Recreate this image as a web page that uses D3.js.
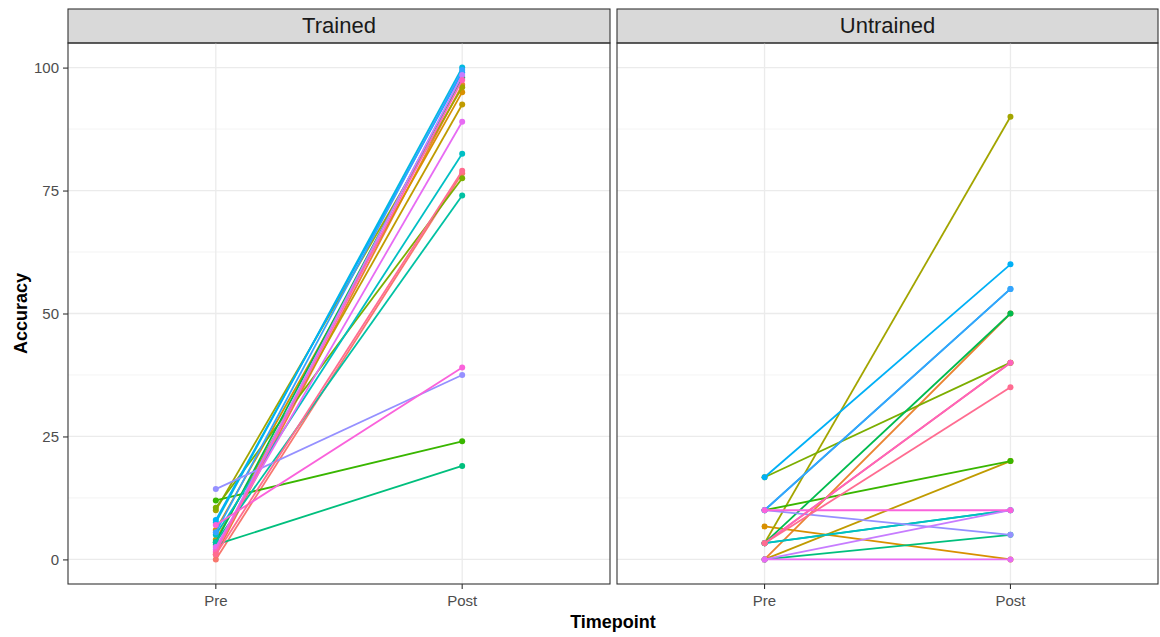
<!DOCTYPE html>
<html>
<head>
<meta charset="utf-8">
<script src="https://cdn.jsdelivr.net/npm/d3@7"></script>
<style>
  body { margin: 0; background: #fff; }
  text { font-family: "Liberation Sans", Arial, sans-serif; }
</style>
</head>
<body>
<div id="chart"></div>
<script>
// data, one entry per participant (order = colour index)
const participants = d3.range(1, 21).map(d => "P" + d);
const timepoints = ["Pre", "Post"];
const panels = ["Trained", "Untrained"];
const yTicks = [0, 25, 50, 75, 100];

const trainedPre  = [0, 1, 6, 4, 10, 10.5, 12, 3.5, 3, 3.5, 5, 7.5, 8, 5.5, 14.3, 2, 2.5, 7, 1.5, 1];
const trainedPost = [78.5, 96.5, 95, 92.5, 96, 77.5, 24, 98, 19, 74, 82.5, 100, 99, 99.5, 37.5, 98.5, 89, 39, 97.5, 79];

const untrainedPre  = [3.3, 0, 6.7, 0, 3.3, 16.7, 10, 3.3, 0, 3.3, 3.3, 10, 16.7, 10, 10, 0, 0, 10, 3.3, 3.3];
const untrainedPost = [40, 50, 0, 20, 90, 40, 20, 50, 5, 10, 10, 55, 60, 55, 5, 10, 0, 10, 40, 35];

// ggplot default hue palette for 20 levels
const palette = ["#F8766D", "#EA8331", "#D89000", "#C09B00", "#A3A500", "#7CAE00", "#39B600", "#00BB4E",
  "#00BF7D", "#00C1A3", "#00BFC4", "#00BADE", "#00B0F6", "#35A2FF", "#9590FF", "#C77CFF",
  "#E76BF3", "#FA62DB", "#FF62BC", "#FF6C91"];
const colour = d3.scaleOrdinal().domain(participants).range(palette);

const W = 1160, H = 637;
const svg = d3.select("#chart").append("svg").attr("width", W).attr("height", H);

const panelTop = 43, panelBottom = 584, stripTop = 9;
const panelX = [[68, 610], [617, 1158]];

const y = d3.scaleLinear().domain([-5, 105]).range([panelBottom, panelTop]);

const series = {
  Trained: participants.map((p, i) => ({id: p, values: [trainedPre[i], trainedPost[i]]})),
  Untrained: participants.map((p, i) => ({id: p, values: [untrainedPre[i], untrainedPost[i]]}))
};

panels.forEach((name, k) => {
  const [x0, x1] = panelX[k];
  const x = d3.scaleLinear().domain([0.4, 2.6]).range([x0, x1]);
  const g = svg.append("g");

  // strip
  g.append("rect").attr("x", x0).attr("y", stripTop).attr("width", x1 - x0).attr("height", panelTop - stripTop)
    .attr("fill", "#d9d9d9").attr("stroke", "#333").attr("stroke-width", 1.1);
  g.append("text").attr("x", (x0 + x1) / 2).attr("y", (stripTop + panelTop) / 2 + 1)
    .attr("text-anchor", "middle").attr("dominant-baseline", "middle")
    .attr("font-size", 22).attr("fill", "#1a1a1a").text(name);

  // grid
  const minor = d3.range(-12.5, 105, 25).filter(d => d > -5);
  g.selectAll(".minor").data(minor).join("line")
    .attr("x1", x0).attr("x2", x1).attr("y1", d => y(d)).attr("y2", d => y(d))
    .attr("stroke", "#f0f0f0").attr("stroke-width", 0.8);
  g.selectAll(".major").data(yTicks).join("line")
    .attr("x1", x0).attr("x2", x1).attr("y1", d => y(d)).attr("y2", d => y(d))
    .attr("stroke", "#ebebeb").attr("stroke-width", 1.3);
  g.selectAll(".vmajor").data(timepoints).join("line")
    .attr("x1", (d, i) => x(i + 1)).attr("x2", (d, i) => x(i + 1))
    .attr("y1", panelTop).attr("y2", panelBottom)
    .attr("stroke", "#ebebeb").attr("stroke-width", 1.3);

  // lines and points
  const line = d3.line().x((d, i) => x(i + 1)).y(d => y(d));
  series[name].forEach(s => {
    g.append("path").attr("d", line(s.values)).attr("fill", "none")
      .attr("stroke", colour(s.id)).attr("stroke-width", 1.8);
    g.selectAll(null).data(s.values).join("circle")
      .attr("cx", (d, i) => x(i + 1)).attr("cy", d => y(d)).attr("r", 3)
      .attr("fill", colour(s.id));
  });

  // border
  g.append("rect").attr("x", x0).attr("y", panelTop).attr("width", x1 - x0).attr("height", panelBottom - panelTop)
    .attr("fill", "none").attr("stroke", "#333").attr("stroke-width", 1.1);

  // x axis
  const xa = g.append("g").attr("transform", `translate(0,${panelBottom})`);
  timepoints.forEach((t, i) => {
    xa.append("line").attr("x1", x(i + 1)).attr("x2", x(i + 1)).attr("y1", 0).attr("y2", 5)
      .attr("stroke", "#333").attr("stroke-width", 1.1);
    xa.append("text").attr("x", x(i + 1)).attr("y", 22).attr("text-anchor", "middle")
      .attr("font-size", 15).attr("fill", "#4d4d4d").text(t);
  });

  // y axis on first panel
  if (k === 0) {
    const ya = g.append("g").attr("transform", `translate(${x0},0)`)
      .call(d3.axisLeft(y).tickValues(yTicks).tickSize(5).tickPadding(4));
    ya.select(".domain").remove();
    ya.selectAll(".tick line").attr("stroke", "#333").attr("stroke-width", 1.1);
    ya.selectAll(".tick text").attr("font-size", 15).attr("fill", "#4d4d4d")
      .attr("font-family", "Liberation Sans, Arial, sans-serif");
  }
});

// axis titles
svg.append("text").attr("x", 613).attr("y", 628).attr("text-anchor", "middle")
  .attr("font-size", 18).attr("font-weight", "bold").attr("fill", "#000").text("Timepoint");
svg.append("text").attr("transform", `translate(27,${y(50)}) rotate(-90)`).attr("text-anchor", "middle")
  .attr("font-size", 18).attr("font-weight", "bold").attr("fill", "#000").text("Accuracy");
</script>
</body>
</html>
